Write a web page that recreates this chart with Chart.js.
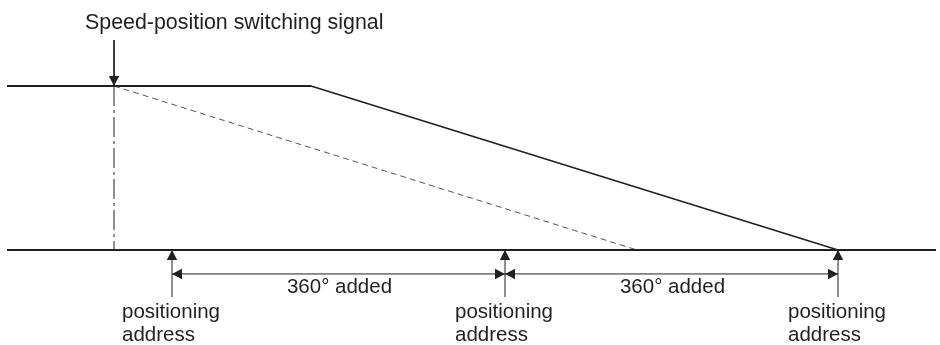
<!DOCTYPE html>
<html>
<head>
<style>
  body { margin: 0; background: #fff; }
  #wrap { width: 940px; height: 345px; position: relative; }
</style>
</head>
<body>
<script src="https://cdn.jsdelivr.net/npm/chart.js@4.4.1/dist/chart.umd.min.js"></script>
<div id="wrap"><canvas id="chart"></canvas></div>
<script>
// time axis positions (arbitrary units) and speed values (% of set speed)
const profileTime = [7, 311, 838];
const profileSpeed = [100, 100, 0];
const baseTime = [7, 936];
const signalTime = 114;
const dashedTime = [114, 637];
const dashedSpeed = [100, 0];
const addressTime = [172, 505, 838];
const signalArrowFrom = 128;
const addressArrowFrom = -28.7;
const dimensionLevel = -14.6;

const signalLabel = "Speed-position switching signal";
const addedLabel = "360\u00b0 added";
const addressLabel = ["positioning", "address"];

const ink = "#231f20";

function pts(xs, ys) {
    return xs.map((x, i) => ({ x: x, y: ys[i] }));
}

var datasets = [
    {
        data: pts(profileTime, profileSpeed), borderWidth: 1.6,
        segment: { borderWidth: (c) => c.p0DataIndex === 0 ? 2.2 : 1.6 }
    },
    { data: pts(baseTime, [0, 0]), borderWidth: 2.2 },
    { data: pts(dashedTime, dashedSpeed), borderWidth: 1, borderDash: [6, 4], borderColor: "#555" },
    { data: pts([signalTime, signalTime], [100, 0]), borderWidth: 1, borderDash: [20, 4, 3, 4] },
    { data: pts([signalTime, signalTime], [signalArrowFrom, 100]), borderWidth: 1, arrows: "end" }
];
addressTime.forEach((t) => {
    datasets.push({ data: pts([t, t], [addressArrowFrom, 0]), borderWidth: 1, arrows: "end" });
});
for (let i = 0; i < addressTime.length - 1; i++) {
    datasets.push({
        data: pts([addressTime[i], addressTime[i + 1]], [dimensionLevel, dimensionLevel]),
        borderWidth: 1, arrows: "both"
    });
}
datasets.forEach((d) => {
    d.showLine = true;
    d.pointRadius = 0;
    d.borderColor = d.borderColor || ink;
    d.clip = false;
});

// arrowheads on the ends of marked lines
const arrowPlugin = {
    id: "arrowheads",
    afterDatasetsDraw(chart) {
        const ctx = chart.ctx;
        chart.data.datasets.forEach((ds, i) => {
            if (!ds.arrows) return;
            const p = chart.getDatasetMeta(i).data;
            const heads = [[p[p.length - 2], p[p.length - 1]]];
            if (ds.arrows === "both") heads.push([p[1], p[0]]);
            heads.forEach(([a, b]) => {
                const ang = Math.atan2(b.y - a.y, b.x - a.x);
                const len = 10, half = 5.2;
                ctx.save();
                ctx.translate(b.x, b.y);
                ctx.rotate(ang);
                ctx.beginPath();
                ctx.moveTo(0, 0);
                ctx.lineTo(-len, -half);
                ctx.lineTo(-len, half);
                ctx.closePath();
                ctx.fillStyle = ink;
                ctx.fill();
                ctx.restore();
            });
        });
    }
};

const labelPlugin = {
    id: "labels",
    afterDraw(chart) {
        const ctx = chart.ctx;
        const xs = chart.scales.x, ys = chart.scales.y;
        ctx.save();
        ctx.fillStyle = ink;
        ctx.textBaseline = "alphabetic";
        ctx.font = "21.4px 'Liberation Sans', Arial, sans-serif";
        ctx.textAlign = "left";
        ctx.fillText(signalLabel, xs.getPixelForValue(signalTime) - 29, 29);

        ctx.font = "20.5px 'Liberation Sans', Arial, sans-serif";
        const dimY = ys.getPixelForValue(dimensionLevel);
        ctx.textAlign = "center";
        for (let i = 0; i < addressTime.length - 1; i++) {
            const mid = (xs.getPixelForValue(addressTime[i]) + xs.getPixelForValue(addressTime[i + 1])) / 2;
            ctx.fillText(addedLabel, mid + 1, dimY + 19);
        }
        const baseY = ys.getPixelForValue(0);
        ctx.textAlign = "left";
        addressTime.forEach((t) => {
            const x = xs.getPixelForValue(t) - 50;
            ctx.fillText(addressLabel[0], x, baseY + 68);
            ctx.fillText(addressLabel[1], x, baseY + 91);
        });
        ctx.restore();
    }
};

new Chart(document.getElementById("chart"), {
    type: "scatter",
    data: { datasets: datasets },
    options: {
        responsive: true,
        maintainAspectRatio: false,
        animation: false,
        layout: { padding: 0 },
        plugins: { legend: { display: false }, tooltip: { enabled: false } },
        scales: {
            x: { type: "linear", min: 0, max: 940, display: false },
            y: { type: "linear", min: -57.93, max: 152.44, display: false }
        }
    },
    plugins: [arrowPlugin, labelPlugin]
});
</script>
</body>
</html>
